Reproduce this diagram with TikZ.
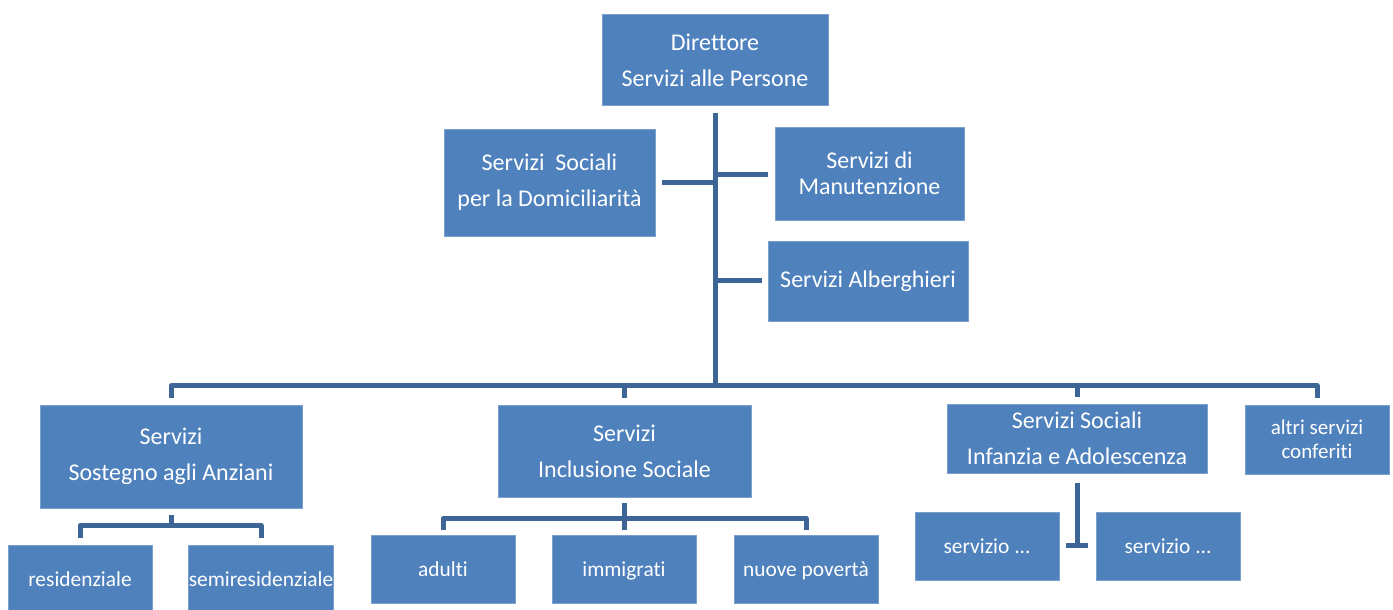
\documentclass[tikz,border=0pt]{standalone}
\usepackage{fontspec}
\setsansfont{Carlito}[Ligatures=NoCommon]
\usetikzlibrary{positioning}
\definecolor{BoxBlue}{HTML}{4F81BD}
\definecolor{LinkBlue}{HTML}{3D6696}
\tikzset{every picture/.style={/utils/exec={\sffamily}}}

\begin{document}
\begin{tikzpicture} [
			x=0.5pt, y=0.5pt,
			every node/.style={align=center,text=white,inner sep=0pt},
			unit/.style={rectangle,fill=BoxBlue,draw=BoxBlue!75!white,line width=0.3pt,font=\fontsize{12}{18}\selectfont},
			sub/.style={unit,minimum width=72pt,minimum height=34pt,text height=9pt,text depth=1pt,font=\fontsize{10.7}{13}\selectfont},
			link/.style={draw=LinkBlue,line width=2.5pt,line join=round}
		]
			\useasboundingbox (0,0) rectangle (1393,610);
			% vertice
			\node at (715,550) [unit,minimum width=113pt,minimum height=45.5pt] (nodeDir) {Direttore\\Servizi alle Persone};
			% staff
			\node at (549.5,427.5) [unit,minimum width=105.5pt,minimum height=53.5pt] (nodeDom) {Servizi~ Sociali\\per la Domiciliarità};
			\node at (869.5,436.5) [unit,minimum width=94.5pt,minimum height=46.5pt,font=\fontsize{12}{13}\selectfont] (nodeMan) {Servizi di\\Manutenzione};
			\node at (868,329) [unit,minimum width=100pt,minimum height=40pt] (nodeAlb) {Servizi Alberghieri};
			% aree
			\node at (171,153.5) [unit,minimum width=131pt,minimum height=51.5pt] (nodeAnz) {Servizi\\Sostegno agli Anziani};
			\node at (624.5,159) [unit,minimum width=126.5pt,minimum height=46pt] (nodeInc) {Servizi\\Inclusione Sociale};
			\node at (1077,171.5) [unit,minimum width=130pt,minimum height=34.5pt] (nodeInf) {Servizi Sociali\\Infanzia e Adolescenza};
			\node at (1317,170.5) [unit,minimum width=72pt,minimum height=34.5pt,font=\fontsize{10.5}{12}\selectfont] (nodeAlt) {altri servizi\\conferiti};
			% servizi
			\node at (80,31) [sub] (nodeRes) {residenziale};
			\node at (261,31) [sub] (nodeSem) {semiresidenziale};
			\node at (443,41) [sub] (nodeAdu) {adulti};
			\node at (624,41) [sub] (nodeImm) {immigrati};
			\node at (806,41) [sub] (nodePov) {nuove povertà};
			\node at (987,64) [sub] (nodeSv1) {servizio ...};
			\node at (1168,64) [sub] (nodeSv2) {servizio ...};
			% collegamenti
			\coordinate (bus) at (715,224);
			\draw[link] ([yshift=-3.5pt]nodeDir.south) -- (bus);
			\draw[link] ([xshift=3.5pt]nodeDom.east) -- (nodeDir.south |- nodeDom.east);
			\draw[link] (nodeDir.south |- 0,435) -- ([xshift=-3.5pt]nodeMan.west |- 0,435);
			\draw[link] (nodeDir.south |- nodeAlb.west) -- ([xshift=-3pt]nodeAlb.west);
			\draw[link] ([yshift=3.5pt]nodeAnz.north) -- (nodeAnz.north |- bus) -- (nodeAlt.north |- bus) -- ([yshift=3.5pt]nodeAlt.north);
			\draw[link] (nodeInc.north |- bus) -- ([yshift=3.5pt]nodeInc.north);
			\draw[link] (nodeInf.north |- bus) -- ([yshift=3.5pt]nodeInf.north);
			\coordinate (barAnz) at ([yshift=-8.5pt]nodeAnz.south);
			\draw[link] ([yshift=-3.5pt]nodeAnz.south) -- (barAnz);
			\draw[link] ([yshift=3.5pt]nodeRes.north) -- (nodeRes.north |- barAnz) -- (nodeSem.north |- barAnz) -- ([yshift=3.5pt]nodeSem.north);
			\coordinate (barInc) at ([yshift=-10.5pt]nodeInc.south);
			\draw[link] ([yshift=-3pt]nodeInc.south) -- (barInc);
			\draw[link] ([yshift=2.5pt]nodeAdu.north) -- (nodeAdu.north |- barInc) -- (nodePov.north |- barInc) -- ([yshift=2.5pt]nodePov.north);
			\draw[link] (nodeImm.north |- barInc) -- ([yshift=2.5pt]nodeImm.north);
			\draw[link] ([yshift=-5pt]nodeInf.south) -- (nodeInf.south |- nodeSv1.east);
			\draw[link] ([xshift=3.5pt]nodeSv1.east) -- ([xshift=-4pt]nodeSv2.west);
		\end{tikzpicture}
\end{document}
